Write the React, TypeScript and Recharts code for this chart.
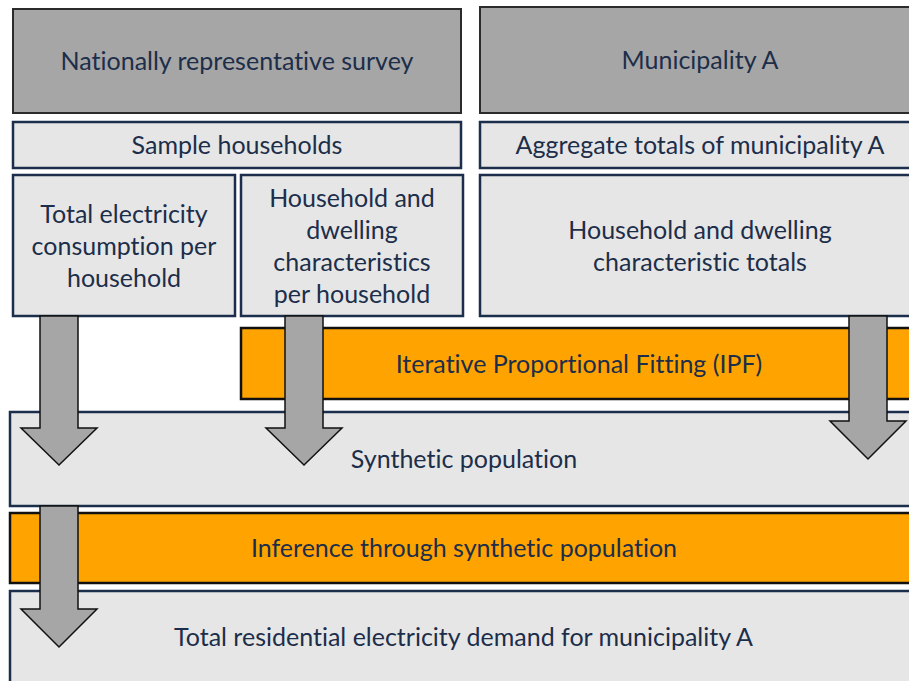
import React from "react";
import { ComposedChart, XAxis, YAxis, ReferenceArea } from "recharts";

// Diagram extents (diagram units)
const boxLabels: string[][] = [
  ["Nationally representative survey"],
  ["Municipality A"],
  ["Sample households"],
  ["Aggregate totals of municipality A"],
  ["Total electricity", "consumption per", "household"],
  ["Household and", "dwelling", "characteristics", "per household"],
  ["Household and dwelling", "characteristic totals"],
  ["Iterative Proportional Fitting (IPF)"],
  ["Synthetic population"],
  ["Inference through synthetic population"],
  ["Total residential electricity demand for municipality A"],
];
const boxKinds = ["dark", "dark", "light", "light", "light", "light", "light", "orange", "light", "orange", "light"];
const boxX1 = [13, 480, 13, 480, 13, 241, 480, 241, 10, 10, 10];
const boxX2 = [461, 920, 461, 920, 235, 463, 920, 917, 918, 918, 917];
const boxY1 = [9, 7, 122, 122, 175, 175, 175, 328, 412, 513, 591];
const boxY2 = [113, 113, 168, 168, 316, 316, 316, 399, 506, 583, 683];

// Arrows (diagram units)
const arrowCx = [59, 304, 868, 59];
const arrowTop = [316, 316, 316, 506];
const arrowHeadY = [428, 428, 421, 609];
const arrowTip = [465, 465, 459, 647];
const arrowShaftHalf = [19, 19, 19, 19];
const arrowHeadHalf = [38, 38, 38, 38];

const TEXT = "#1c2e4a";
const FONT = "Lato, 'Open Sans', sans-serif";

const kindStyle: Record<string, { fill: string; stroke: string; sw: number }> = {
  dark: { fill: "#a6a6a6", stroke: "#2b2b2b", sw: 2 },
  light: { fill: "#e6e6e6", stroke: "#1b2e4b", sw: 2.5 },
  orange: { fill: "#ffa300", stroke: "#111111", sw: 2.5 },
};

const makeBoxShape = (lines: string[], kind: string) => (props: any) => {
  const { x, y, width, height } = props;
  const st = kindStyle[kind];
  const lh = 32;
  const cx = x + width / 2;
  const cy = y + height / 2 - 1;
  const start = cy - ((lines.length - 1) * lh) / 2;
  return (
    <g>
      <rect x={x} y={y} width={width} height={height} fill={st.fill} stroke={st.stroke} strokeWidth={st.sw} />
      <text
        textAnchor="middle"
        fontFamily={FONT}
        fontSize={25}
        fill={TEXT}
        style={{
          fontVariantLigatures: "none",
          fontFeatureSettings: '"liga" 0, "clig" 0, "calt" 0, "dlig" 0',
        }}
      >
        {lines.map((l, i) => (
          <tspan key={i} x={cx} y={start + i * lh} dominantBaseline="central">
            {l}
          </tspan>
        ))}
      </text>
    </g>
  );
};

const makeArrowShape = (shaftFrac: number, headFrac: number) => (props: any) => {
  const { x, y, width, height } = props;
  const cx = x + width / 2;
  const sh = (width / 2) * shaftFrac;
  const hy = y + height * headFrac;
  const pts = [
    [cx - sh, y],
    [cx + sh, y],
    [cx + sh, hy],
    [x + width, hy],
    [cx, y + height],
    [x, hy],
    [cx - sh, hy],
  ]
    .map((p) => p.join(","))
    .join(" ");
  return <polygon points={pts} fill="#a6a6a6" stroke="#111" strokeWidth={1.5} strokeLinejoin="miter" />;
};

export default function App() {
  return (
    <div style={{ position: "absolute", left: 0, top: 0, background: "#fff" }}>
      <ComposedChart width={909} height={681} data={[]} margin={{ top: 0, right: 0, bottom: 0, left: 0 }}>
        <XAxis type="number" dataKey="x" domain={[0, 909]} hide allowDataOverflow />
        <YAxis type="number" dataKey="y" domain={[0, 681]} reversed hide allowDataOverflow />
        {boxLabels.map((lines, i) => (
          <ReferenceArea
            key={"b" + i}
            x1={boxX1[i]}
            x2={boxX2[i]}
            y1={boxY1[i]}
            y2={boxY2[i]}
            ifOverflow="visible"
            shape={makeBoxShape(lines, boxKinds[i])}
          />
        ))}
        {arrowCx.map((cx, i) => (
          <ReferenceArea
            key={"a" + i}
            x1={cx - arrowHeadHalf[i]}
            x2={cx + arrowHeadHalf[i]}
            y1={arrowTop[i]}
            y2={arrowTip[i]}
            ifOverflow="visible"
            shape={makeArrowShape(
              arrowShaftHalf[i] / arrowHeadHalf[i],
              (arrowHeadY[i] - arrowTop[i]) / (arrowTip[i] - arrowTop[i])
            )}
          />
        ))}
      </ComposedChart>
    </div>
  );
}
